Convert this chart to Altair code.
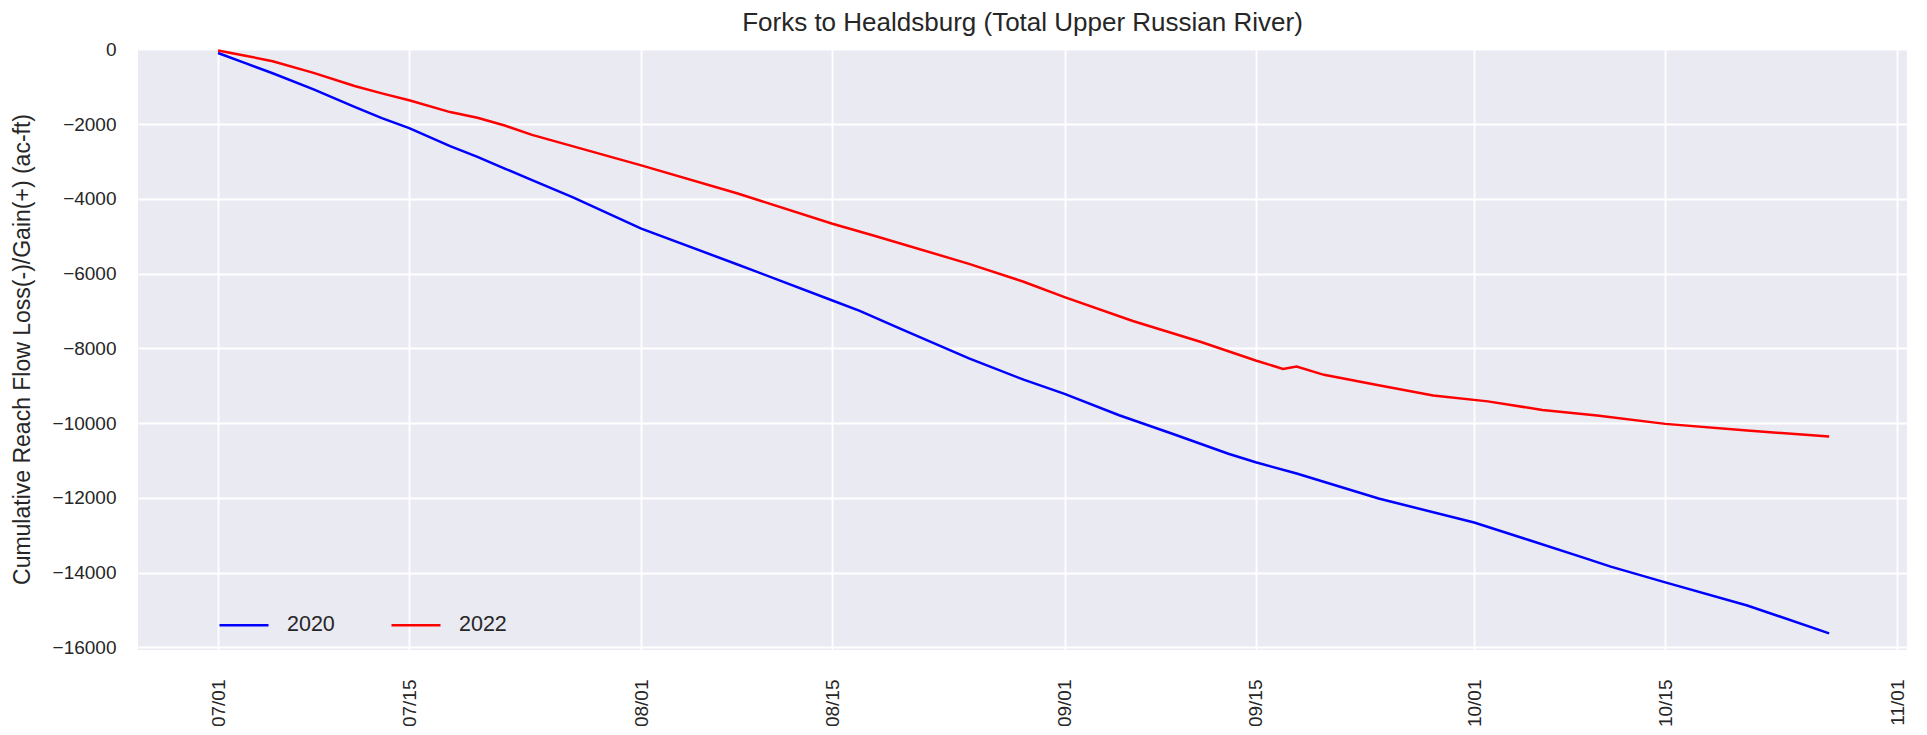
import altair as alt
import pandas as pd

# ---- data ----
dates_2020 = ["2020-07-01", "2020-07-03", "2020-07-05", "2020-07-08", "2020-07-11", "2020-07-13",
              "2020-07-15", "2020-07-18", "2020-07-20", "2020-07-22", "2020-07-24", "2020-07-27",
              "2020-08-01", "2020-08-08", "2020-08-15", "2020-08-17", "2020-08-20", "2020-08-25",
              "2020-08-29", "2020-09-01", "2020-09-05", "2020-09-09", "2020-09-11", "2020-09-13",
              "2020-09-15", "2020-09-18", "2020-09-24", "2020-10-01", "2020-10-05", "2020-10-09",
              "2020-10-11", "2020-10-15", "2020-10-21", "2020-10-27"]
values_2020 = [-100, -370, -640, -1070, -1540, -1840,
               -2110, -2590, -2880, -3190, -3500, -3960,
               -4800, -5750, -6720, -7000, -7480, -8270,
               -8840, -9220, -9790, -10300, -10560, -10820,
               -11049, -11350, -12020, -12660, -13130, -13600,
               -13840, -14262, -14880, -15627]

dates_2022 = ["2020-07-01", "2020-07-03", "2020-07-05", "2020-07-08", "2020-07-11", "2020-07-13",
              "2020-07-15", "2020-07-18", "2020-07-20", "2020-07-22", "2020-07-24", "2020-08-01",
              "2020-08-08", "2020-08-15", "2020-08-18", "2020-08-25", "2020-08-29", "2020-09-01",
              "2020-09-06", "2020-09-11", "2020-09-15", "2020-09-17", "2020-09-18", "2020-09-20",
              "2020-09-24", "2020-09-28", "2020-10-02", "2020-10-06", "2020-10-10", "2020-10-15",
              "2020-10-21", "2020-10-27"]
values_2022 = [-30, -170, -320, -630, -980, -1180,
               -1365, -1680, -1830, -2040, -2290, -3106,
               -3850, -4668, -4980, -5740, -6220, -6630,
               -7270, -7830, -8327, -8550, -8490, -8710,
               -8990, -9260, -9420, -9650, -9800, -10022,
               -10201, -10362]

series_names = ["2020", "2022"]
series_colors = ["#0000ff", "#ff0000"]

tick_dates = [(7, 1), (7, 15), (8, 1), (8, 15), (9, 1), (9, 15), (10, 1), (10, 15), (11, 1)]
y_ticks = [0, -2000, -4000, -6000, -8000, -10000, -12000, -14000, -16000]

title_text = "Forks to Healdsburg (Total Upper Russian River)"
y_title = "Cumulative Reach Flow Loss(-)/Gain(+) (ac-ft)"

df = pd.concat([
    pd.DataFrame({"date": dates_2020, "value": values_2020, "year": series_names[0]}),
    pd.DataFrame({"date": dates_2022, "value": values_2022, "year": series_names[1]}),
])
title_df = pd.DataFrame({"t": [title_text]})

FONT = "Liberation Sans"
TXT = "#262626"
W, H = 1769, 601

x_values = [alt.DateTime(year=2020, month=m, date=d, utc=True) for m, d in tick_dates]

lines = alt.Chart(df).mark_line(strokeWidth=2.5).encode(
    x=alt.X(
        "date:T",
        scale=alt.Scale(
            type="utc",
            domain=[alt.DateTime(year=2020, month=6, date=25, hours=3, minutes=20, utc=True),
                    alt.DateTime(year=2020, month=11, date=1, hours=16, minutes=50, utc=True)],
        ),
        axis=alt.Axis(
            values=x_values,
            labelExpr="utcFormat(datum.value, '%m/%d')",
            labelAngle=270,
            labelPadding=29,
            title=None,
        ),
    ),
    y=alt.Y(
        "value:Q",
        scale=alt.Scale(domain=[-16072, 8], nice=False, zero=False),
        axis=alt.Axis(
            values=y_ticks,
            format="d",
            labelPadding=22,
            title=y_title,
            titleAngle=270,
            titleX=-116,
            titleY=300,
            titleAlign="center",
            titleBaseline="middle",
            titleFontSize=23,
            titleFontWeight="normal",
        ),
    ),
    color=alt.Color(
        "year:N",
        scale=alt.Scale(domain=series_names, range=series_colors),
        legend=alt.Legend(
            title=None,
            orient="none",
            legendX=80,
            legendY=550,
            direction="horizontal",
            symbolType="stroke",
            symbolSize=2401,
            symbolStrokeWidth=2.5,
            labelFontSize=21.5,
            labelOffset=17,
            columnPadding=51,
            padding=0,
            labelFont=FONT,
            labelColor=TXT,
        ),
    ),
)

title = alt.Chart(title_df).mark_text(
    font=FONT,
    fontSize=26,
    color=TXT,
    align="center",
    baseline="alphabetic",
).encode(
    text="t:N",
    x=alt.value(W / 2 + 0.0),
    y=alt.value(-18),
)

chart = alt.layer(lines, title).properties(
    width=W,
    height=H,
    autosize=alt.AutoSizeParams(type="none"),
    padding={"left": 130, "top": 41, "right": 12, "bottom": 76},
).configure_view(
    fill="#EAEAF2",
    strokeWidth=0,
).configure_axis(
    domain=False,
    ticks=False,
    grid=True,
    gridColor="#ffffff",
    gridWidth=1.8,
    labelFont=FONT,
    labelFontSize=19,
    labelColor=TXT,
    titleFont=FONT,
    titleColor=TXT,
)

chart.save("out.html", embed_options={"renderer": "svg", "actions": False})
